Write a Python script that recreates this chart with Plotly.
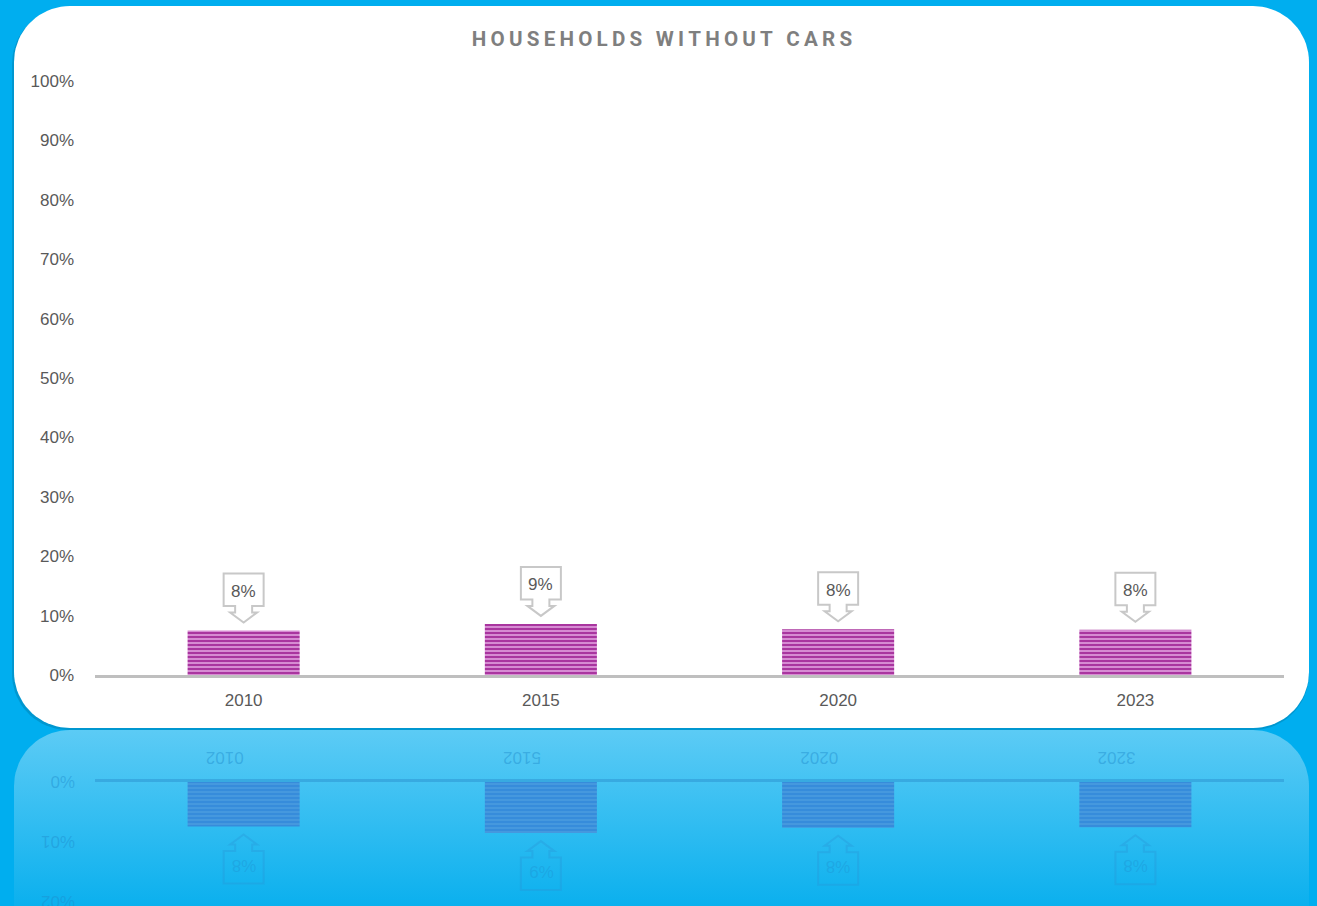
import numpy as np
import plotly.graph_objects as go

# ---------------- data ----------------
years = ["2010", "2015", "2020", "2023"]
share_pct = [7.5, 8.6, 7.7, 7.6]
y_tick_vals = [0, 10, 20, 30, 40, 50, 60, 70, 80, 90, 100]
ref_tick_vals = [0, 10, 20]
title_text = "HOUSEHOLDS WITHOUT CARS"

# ---------------- geometry helpers (page pixels) ----------------
W, H = 1317, 906


def fy(y):
    return 1 - y / H


def rounded_rect(x0, y0, x1, y1, r, top=True, bottom=True, n=20):
    xs, ys = [], []

    def arc(cx, cy, a0, a1):
        a = np.radians(np.linspace(a0, a1, n))
        xs.extend(cx + r * np.cos(a))
        ys.extend(cy + r * np.sin(a))

    if top:
        arc(x0 + r, y0 + r, 180, 270)
        arc(x1 - r, y0 + r, 270, 360)
    else:
        xs.extend([x0, x1]); ys.extend([y0, y0])
    if bottom:
        arc(x1 - r, y1 - r, 0, 90)
        arc(x0 + r, y1 - r, 90, 180)
    else:
        xs.extend([x1, x0]); ys.extend([y1, y1])
    xs.append(xs[0]); ys.append(ys[0])
    return list(xs), list(ys)


fig = go.Figure()

# ---------------- background card + reflection card ----------------
sx, sy = rounded_rect(12, 8, 1309, 730, 56)
fig.add_trace(go.Scatter(x=sx, y=sy, mode="lines", fill="toself", line=dict(width=0),
                         fillcolor="rgba(0,0,0,0.13)", hoverinfo="skip", showlegend=False,
                         xaxis="x", yaxis="y"))
cx, cy = rounded_rect(14, 6, 1309, 728, 56)
fig.add_trace(go.Scatter(x=cx, y=cy, mode="lines", fill="toself", line=dict(width=0),
                         fillcolor="white", hoverinfo="skip", showlegend=False,
                         xaxis="x", yaxis="y"))
rx, ry = rounded_rect(14, 730, 1309, 980, 56, top=True, bottom=False)
fig.add_trace(go.Scatter(x=rx, y=ry, mode="lines", fill="toself", line=dict(width=0),
                         fillgradient=dict(type="vertical",
                                           colorscale=[[0, "#5CCBF5"], [1, "#0BB0EE"]],
                                           start=730, stop=906),
                         hoverinfo="skip", showlegend=False, xaxis="x", yaxis="y"))

# ---------------- main bars ----------------
fig.add_trace(go.Bar(
    x=years, y=share_pct, xaxis="x2", yaxis="y2",
    marker=dict(color="#A9359F", line=dict(width=0),
                pattern=dict(shape="-", fgcolor="#DC95D8", bgcolor="#A9359F",
                             size=4, solidity=0.45, fgopacity=1)),
    hoverinfo="skip", showlegend=False,
))

# ---------------- reflection bars ----------------
fig.add_trace(go.Bar(
    x=years, y=share_pct, xaxis="x3", yaxis="y3",
    marker=dict(color="#3A8FDC", line=dict(width=0),
                pattern=dict(shape="-", fgcolor="#4699DF", bgcolor="#368CDB",
                             size=4, solidity=0.45, fgopacity=1)),
    hoverinfo="skip", showlegend=False,
))

# ---------------- callouts ----------------
callout_path = ("M -20,57 L 20,57 L 20,24.5 L 8.5,24.5 L 8.5,18 L 13.5,18 L 0,8 "
                "L -13.5,18 L -8.5,18 L -8.5,24.5 L -20,24.5 Z")
callout_path_ref = ("M -20,-57 L 20,-57 L 20,-24.5 L 8.5,-24.5 L 8.5,-18 L 13.5,-18 L 0,-8 "
                    "L -13.5,-18 L -8.5,-18 L -8.5,-24.5 L -20,-24.5 Z")

label_font = dict(family="Liberation Sans, Arial", size=17, color="#595959")
ref_font = dict(family="Liberation Sans, Arial", size=17, color="rgba(30,140,205,0.45)")
ref_font_faint = dict(family="Liberation Sans, Arial", size=17, color="rgba(30,140,205,0.35)")

shapes = []
annotations = []
for i, (yr, v) in enumerate(zip(years, share_pct)):
    label = f"{int(v + 0.5)}%"
    shapes.append(dict(type="path", xref="x2", yref="y2", xsizemode="pixel",
                       ysizemode="pixel", xanchor=i, yanchor=v, path=callout_path,
                       line=dict(color="#C8C8C8", width=2), fillcolor="white", layer="above"))
    annotations.append(dict(xref="x2", yref="y2", x=i, y=v, yshift=39, text=label,
                            showarrow=False, font=label_font))
    # reflection
    shapes.append(dict(type="path", xref="x3", yref="y3", xsizemode="pixel",
                       ysizemode="pixel", xanchor=i, yanchor=v, path=callout_path_ref,
                       line=dict(color="rgba(40,150,215,0.35)", width=2),
                       fillcolor="rgba(0,0,0,0)", layer="above"))
    annotations.append(dict(xref="x3", yref="y3", x=i, y=v, yshift=-39, text=label[::-1],
                            textangle=180, showarrow=False, font=ref_font_faint))

# reflected y tick labels (mirrored look)
for t in ref_tick_vals:
    annotations.append(dict(xref="paper", yref="y3", x=77 / W, y=t, xanchor="right",
                            yanchor="middle", text=f"{t}%"[::-1], textangle=180,
                            showarrow=False, font=ref_font))

tick_font = dict(family="Liberation Sans, Arial", size=17, color="#595959")

y0_px, y100_px = 675, 81
px_per_pct = (y0_px - y100_px) / 100.0
ref_axis_px = 782
ref_max = (H - ref_axis_px) / px_per_pct
cat_range = [-0.5, len(years) - 0.5]

fig.update_layout(
    width=W, height=H, autosize=False,
    margin=dict(l=0, r=0, t=0, b=0, pad=0),
    paper_bgcolor="#00AEEF", plot_bgcolor="rgba(0,0,0,0)",
    bargap=0.623,
    title=dict(text="\u2009".join(title_text),
               x=662 / W, xanchor="center", xref="paper",
               y=fy(39), yanchor="middle", yref="paper", automargin=False,
               font=dict(family="Roboto", size=20.6, weight="bold", color="#7F7F7F")),
    xaxis=dict(domain=[0, 1], range=[0, W], autorange=False, visible=False,
               fixedrange=True, automargin=False),
    yaxis=dict(domain=[0, 1], range=[H, 0], autorange=False, visible=False,
               fixedrange=True, automargin=False),
    xaxis2=dict(domain=[95 / W, 1284 / W], anchor="y2", type="category",
                categoryorder="array", categoryarray=years, range=cat_range,
                autorange=False, automargin=False,
                showline=True, linecolor="#BFBFBF", linewidth=2.5,
                showgrid=False, zeroline=False, ticks="", tickfont=tick_font,
                ticklabelstandoff=8),
    yaxis2=dict(domain=[fy(y0_px), fy(y100_px)], anchor="x2", range=[0, 100],
                autorange=False, automargin=False,
                tickmode="array", tickvals=y_tick_vals,
                ticktext=[f"{t}%" for t in y_tick_vals], showgrid=False, zeroline=False,
                showline=False, ticks="", tickfont=tick_font, ticklabelstandoff=20),
    xaxis3=dict(domain=[95 / W, 1284 / W], anchor="y3", type="category",
                categoryorder="array", categoryarray=years, side="top",
                range=cat_range, autorange=False, automargin=False,
                tickmode="array", tickvals=years, ticktext=[y[::-1] for y in years],
                tickangle=180,
                showline=True, linecolor="rgba(40,140,205,0.45)", linewidth=2.5,
                showgrid=False, zeroline=False, ticks="", tickfont=ref_font,
                ticklabelstandoff=3),
    yaxis3=dict(domain=[0, fy(ref_axis_px)], anchor="x3", range=[ref_max, 0],
                autorange=False, automargin=False, showticklabels=False,
                showgrid=False, zeroline=False, showline=False, ticks=""),
    shapes=shapes,
    annotations=annotations,
)

fig.write_html("out.html", config={"displayModeBar": False},
               post_script="document.body.style.margin='0';")
